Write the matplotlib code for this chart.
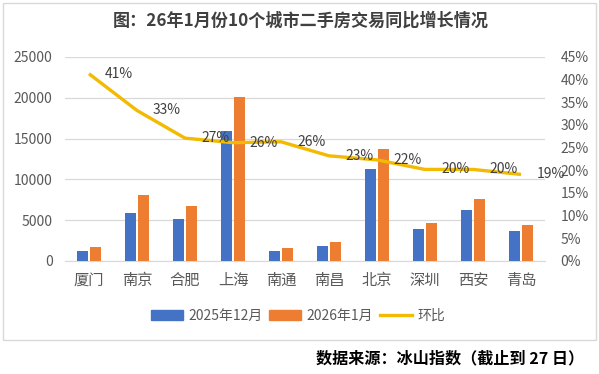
import matplotlib
matplotlib.use("Agg")
import matplotlib.pyplot as plt
from matplotlib.patches import Rectangle, Patch
from matplotlib.lines import Line2D
from matplotlib.ticker import PercentFormatter
import numpy as np

plt.rcParams['font.family'] = ['Noto Sans CJK SC', 'DejaVu Sans']

cities = ["厦门", "南京", "合肥", "上海", "南通", "南昌", "北京", "深圳", "西安", "青岛"]
dec_2025 = [1270, 5940, 5200, 15900, 1270, 1880, 11230, 3970, 6310, 3730]
jan_2026 = [1760, 8030, 6680, 20080, 1640, 2370, 13690, 4710, 7540, 4460]
mom = [0.413, 0.332, 0.271, 0.261, 0.263, 0.232, 0.223, 0.202, 0.202, 0.191]
series_names = ["2025年12月", "2026年1月", "环比"]
title = "图：26年1月份10个城市二手房交易同比增长情况"
source = "数据来源：冰山指数（截止到 27 日）"

BLUE = "#4472C4"
ORANGE = "#ED7D31"
GOLD = "#F2BA00"
GRID = "#D9D9D9"
TXT = "#595959"

W, H = 599, 374
fig = plt.figure(figsize=(W / 100, H / 100), dpi=100)

# outer border
fig.patches.append(Rectangle((3 / W, (H - 340) / H), 593 / W, 337 / H,
                             transform=fig.transFigure, fill=False,
                             edgecolor=GRID, linewidth=1.0))

ax = fig.add_axes([65 / W, (H - 261) / H, 480 / W, 204 / H])
x = np.arange(len(cities))
bw = 0.21
off = 0.135
ax.bar(x - off, dec_2025, bw, color=BLUE, zorder=3)
ax.bar(x + off, jan_2026, bw, color=ORANGE, zorder=3)
ax.set_xlim(-0.5, len(cities) - 0.5)
ax.set_ylim(0, 25000)
ax.set_yticks(np.arange(0, 25001, 5000))
ax.grid(axis='y', color=GRID, linewidth=0.9, zorder=0)
for s in ['top', 'left', 'right']:
    ax.spines[s].set_visible(False)
ax.spines['bottom'].set_color(GRID)
ax.set_xticks(x)
ax.set_xticklabels(cities)
ax.tick_params(axis='both', length=0, labelsize=10, colors=TXT)
ax.tick_params(axis='x', labelsize=11, pad=8)
ax.tick_params(axis='y', pad=9)

ax2 = ax.twinx()
ax2.plot(x, mom, color=GOLD, linewidth=2.4, solid_capstyle='butt', zorder=4)
ax2.set_ylim(0, 0.45)
ax2.set_yticks(np.arange(0, 0.451, 0.05))
ax2.yaxis.set_major_formatter(PercentFormatter(1.0, decimals=0))
ax2.tick_params(axis='y', length=0, labelsize=10, colors=TXT, pad=11)
for s in ax2.spines.values():
    s.set_visible(False)
for xi, v in zip(x, mom):
    ax2.annotate(f"{v:.0%}", (xi, v), xytext=(11.5, 0), textcoords='offset points',
                 ha='left', va='center', fontsize=10, color="#404040", zorder=5)

fig.text(301 / W, 1 - 21 / H, title, ha='center', va='center',
         fontsize=12.3, fontweight='bold', color="#404040")

handles = [Patch(color=BLUE), Patch(color=ORANGE),
           Line2D([0], [0], color=GOLD, linewidth=2.4)]
fig.legend(handles, series_names, loc='center', bbox_to_anchor=(298 / W, 1 - 316 / H),
           ncol=3, frameon=False, fontsize=10, handlelength=2.3, handleheight=0.7,
           handletextpad=0.4, columnspacing=0.5, labelcolor=TXT)

fig.text(584 / W, 1 - 358 / H, source, ha='right', va='center',
         fontsize=11.6, fontweight='bold', color='black')

fig.savefig("out.png", dpi=100)
